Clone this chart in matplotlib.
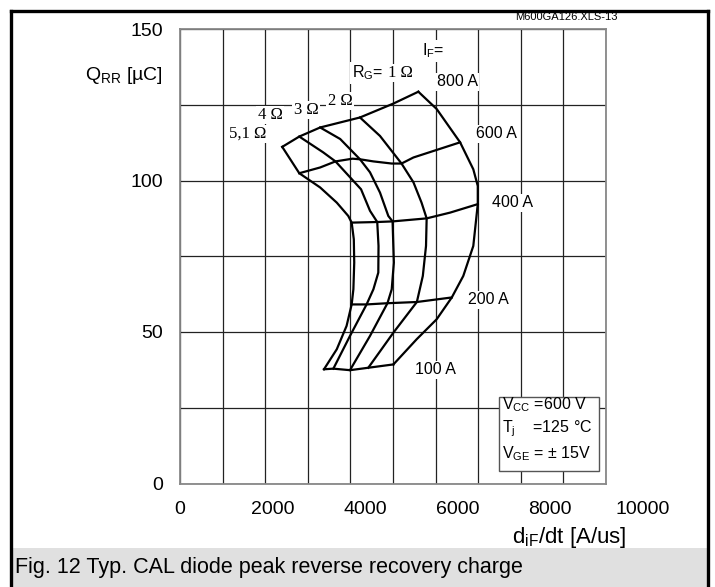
import matplotlib.pyplot as plt
from matplotlib.patches import Rectangle

W, H = 715, 587

# Qrr [uC] vs diF/dt [A/us], one curve per gate resistor, running from 800 A down to 100 A
rg1_x = [5595, 6025, 6575, 6885, 6990, 6990, 6885, 6650, 6380, 6025, 5555, 5010]
rg1_y = [129.3, 123.6, 112.6, 103.7, 98.2, 92.2, 78.4, 68.5, 61.4, 54.2, 47.6, 39.3]
rg2_x = [4225, 4695, 5200, 5480, 5670, 5790, 5775, 5700, 5560, 5010, 4420]
rg2_y = [120.8, 114.7, 105.6, 99.4, 92.7, 87.5, 78.4, 68.5, 59.9, 49.8, 38.2]
rg3_x = [3290, 3760, 4225, 4460, 4695, 4890, 4990, 5020, 4970, 4870, 4460, 3990]
rg3_y = [117.5, 113.7, 107.0, 102.7, 96.0, 88.3, 86.5, 72.9, 64.1, 59.5, 48.7, 37.4]
rg4_x = [2800, 3360, 3650, 4250, 4460, 4630, 4660, 4655, 4540, 4380, 3990, 3600]
rg4_y = [114.5, 109.3, 106.3, 97.1, 90.0, 86.3, 78.4, 69.6, 64.1, 59.1, 48.7, 37.9]
rg51_x = [2400, 2800, 3290, 3680, 3950, 4030, 4080, 4090, 4070, 4030, 3910, 3680, 3380]
rg51_y = [111.1, 102.4, 97.7, 92.7, 88.3, 86.1, 80.6, 72.9, 64.1, 59.1, 52.0, 44.3, 37.7]

# constant forward current lines
if800_x = [2400, 2800, 3290, 4225, 5010, 5595]
if800_y = [111.1, 114.5, 117.5, 120.8, 125.4, 129.3]
if600_x = [2800, 3290, 3650, 4050, 4225, 4540, 4970, 5200, 5480, 6575]
if600_y = [102.4, 104.3, 106.3, 107.2, 107.0, 106.3, 105.6, 105.6, 107.6, 112.6]
if400_x = [4030, 4630, 4990, 5790, 6340, 6990]
if400_y = [86.1, 86.3, 86.5, 87.5, 89.4, 92.2]
if200_x = [4030, 4380, 4870, 5560, 6380]
if200_y = [59.1, 59.1, 59.5, 59.9, 61.4]
if100_x = [3380, 3600, 3990, 4420, 5010]
if100_y = [37.7, 37.9, 37.4, 38.2, 39.3]

x_ticks = [0, 2000, 4000, 6000, 8000, 10000]
y_ticks = [0, 50, 100, 150]

SANS = 'Liberation Sans'
SERIF = 'Liberation Serif'
plt.rcParams['font.family'] = SANS
plt.rcParams['mathtext.fontset'] = 'custom'
plt.rcParams['mathtext.rm'] = SANS


def fx(px):
    return px / W


def fy(py):
    return 1 - py / H


fig = plt.figure(figsize=(W / 100, H / 100), dpi=100)
ax = fig.add_axes([fx(180), fy(483.5), (606 - 180) / W, (483.5 - 29) / H])

ax.set_xlim(0, 10000)
ax.set_ylim(0, 150)
grid_y = list(range(0, 151, 25))
ax.set_xticks(range(0, 10001, 1000))
ax.set_xticklabels([])
ax.set_yticks(grid_y)
ax.set_yticklabels([str(v) if v in y_ticks else '' for v in grid_y], fontsize=14)
ax.tick_params(axis='y', length=0, pad=12)
ax.tick_params(axis='x', length=0)
ax.grid(True, color='#222222', linewidth=0.9)
for s in ax.spines.values():
    s.set_color('#888888')
    s.set_linewidth(1.3)

curve_kw = dict(color='black', linewidth=1.6, solid_joinstyle='round', zorder=3)
for xs, ys in [(rg1_x, rg1_y), (rg2_x, rg2_y), (rg3_x, rg3_y), (rg4_x, rg4_y), (rg51_x, rg51_y),
               (if800_x, if800_y), (if600_x, if600_y), (if400_x, if400_y),
               (if200_x, if200_y), (if100_x, if100_y)]:
    ax.plot(xs, ys, **curve_kw)

# x tick labels are spread wider than the grid spacing
for v, px in zip(x_ticks, [180, 273, 365, 458, 550, 643]):
    fig.text(fx(px), fy(509), str(v), ha='center', va='center', fontsize=14)

fig.text(fx(124), fy(75), r'Q$_{\mathregular{RR}}$ [µC]', ha='center', va='center', fontsize=14)
fig.text(fx(569), fy(538), r'd$_{\mathregular{iF}}$/dt [A/us]', ha='center', va='center', fontsize=16)
fig.text(fx(566), fy(17), 'M600GA126.XLS-13', ha='center', va='center', fontsize=8)

box = dict(facecolor='white', edgecolor='none', pad=1)
# current labels
for txt, px, py in [('800 A', 457, 82), ('600 A', 496, 134), ('400 A', 513, 203),
                    ('200 A', 488, 300), ('100 A', 435, 370)]:
    fig.text(fx(px), fy(py), txt, ha='center', va='center', fontsize=11.5, bbox=box, zorder=4)
fig.text(fx(433), fy(51), r'I$_{\mathregular{F}}$=', ha='center', va='center', fontsize=11.5,
         bbox=box, zorder=4)

# gate resistor labels
fig.text(fx(383), fy(73), r'R$_{\mathregular{G}}$=', ha='right', va='center', fontsize=11.5,
         bbox=box, zorder=4)
for txt, px, py in [('1 Ω', 400, 73), ('2 Ω', 340, 101), ('3 Ω', 306, 110),
                    ('4 Ω', 270, 115), ('5,1 Ω', 248, 134)]:
    fig.text(fx(px), fy(py), txt, ha='center', va='center', fontsize=12, family=SERIF,
             bbox=box, zorder=4)

# test conditions box
fig.patches.append(Rectangle((fx(499), fy(471)), 100 / W, 74 / H, transform=fig.transFigure,
                             facecolor='white', edgecolor='#555555', linewidth=1.0, zorder=3))
for txt, py in [(r'V$_{\mathregular{CC}}$ =600 V', 405),
                (r'T$_{\mathregular{j}}$    =125 °C', 429),
                (r'V$_{\mathregular{GE}}$ = ± 15V', 454)]:
    fig.text(fx(502), fy(py), txt, ha='left', va='center', fontsize=11.5, zorder=4)

# caption bar and outer frame
fig.patches.append(Rectangle((fx(12), 0), (709 - 12) / W, (H - 548) / H,
                             transform=fig.transFigure, facecolor='#e0e0e0',
                             edgecolor='none', zorder=1))
fig.text(fx(15), fy(567), 'Fig. 12 Typ. CAL diode peak reverse recovery charge',
         ha='left', va='center', fontsize=15.5, zorder=4)
frame_kw = dict(color='black', linewidth=2.4, solid_capstyle='projecting',
                transform=fig.transFigure)
fig.add_artist(plt.Line2D([fx(11.5), fx(11.5)], [fy(10.5), 0], **frame_kw))
fig.add_artist(plt.Line2D([fx(11.5), fx(708)], [fy(10.5), fy(10.5)], **frame_kw))
fig.add_artist(plt.Line2D([fx(708), fx(708)], [fy(10.5), 0], **frame_kw))

fig.savefig('out.png', dpi=100)
